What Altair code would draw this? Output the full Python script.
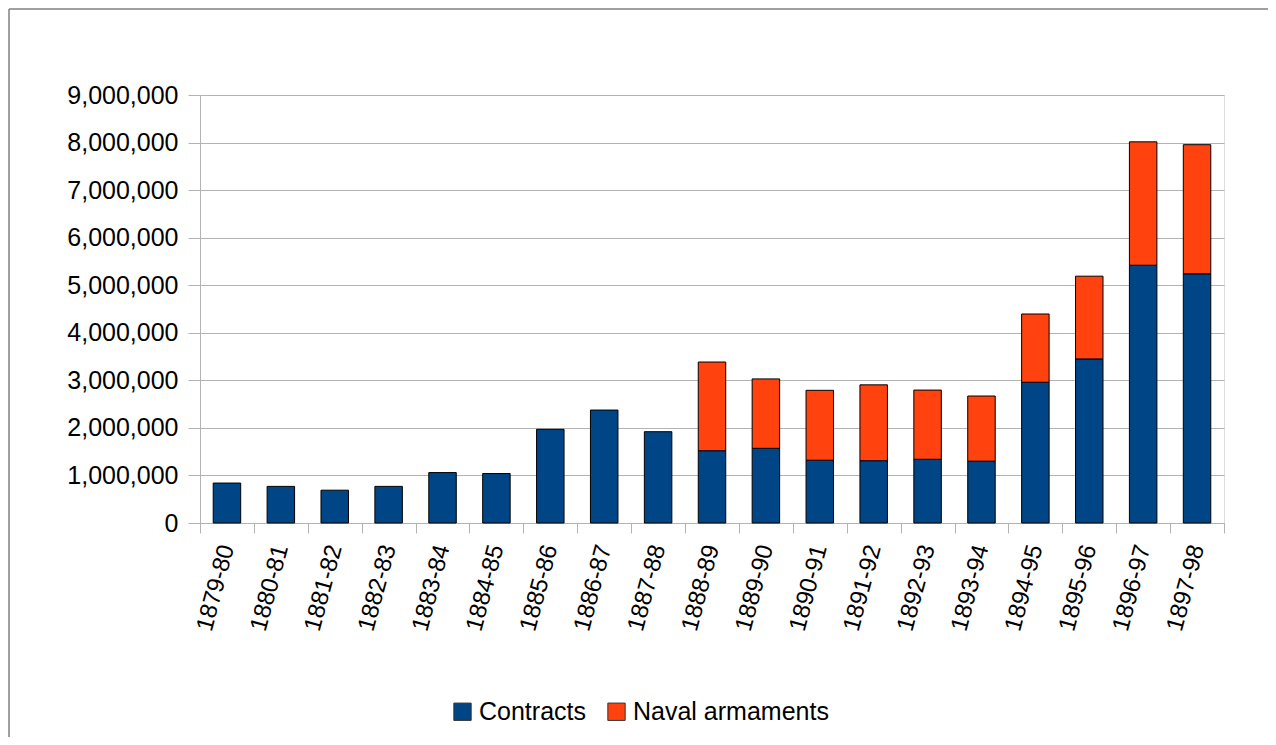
import altair as alt
import pandas as pd

years = ["1879-80", "1880-81", "1881-82", "1882-83", "1883-84", "1884-85",
         "1885-86", "1886-87", "1887-88", "1888-89", "1889-90", "1890-91",
         "1891-92", "1892-93", "1893-94", "1894-95", "1895-96", "1896-97",
         "1897-98"]
contracts = [840000, 770000, 690000, 770000, 1060000, 1040000, 1970000,
             2375000, 1920000, 1520000, 1570000, 1320000, 1310000, 1340000,
             1300000, 2960000, 3450000, 5420000, 5240000]
naval = [None, None, None, None, None, None, None, None, None,
         1865000, 1460000, 1470000, 1595000, 1455000, 1370000, 1435000,
         1740000, 2595000, 2715000]
series = ["Contracts", "Naval armaments"]
y_ticks = [0, 1000000, 2000000, 3000000, 4000000, 5000000, 6000000,
           7000000, 8000000, 9000000]

rows = []
for y, c, n in zip(years, contracts, naval):
    rows.append({"year": y, "series": series[0], "value": c, "ord": 0})
    if n is not None:
        rows.append({"year": y, "series": series[1], "value": n, "ord": 1})
df = pd.DataFrame(rows)

FONT = "Liberation Sans"
GRAY = "#b3b3b3"

bars = alt.Chart(df).mark_bar(
    stroke="#000000", strokeWidth=1, width=alt.RelativeBandSize(0.51)
).encode(
    x=alt.X("year:N", sort=years, title=None,
            scale=alt.Scale(paddingInner=0, paddingOuter=0),
            axis=alt.Axis(labelAngle=-75, labelAlign="right", labelBaseline="middle",
                          labelFontSize=24, labelFont=FONT, labelColor="#000000",
                          labelPadding=12, tickBand="extent", tickSize=10,
                          tickColor=GRAY, domainColor=GRAY, grid=False)),
    y=alt.Y("value:Q", stack="zero", title=None,
            scale=alt.Scale(domain=[0, 9000000], nice=False),
            axis=alt.Axis(values=y_ticks, format=",d", labelFontSize=25,
                          labelFont=FONT, labelColor="#000000", labelPadding=10,
                          tickSize=12, tickColor=GRAY, domainColor=GRAY,
                          grid=True, gridColor=GRAY, gridWidth=1)),
    color=alt.Color("series:N", sort=series, title=None,
                    scale=alt.Scale(domain=series, range=["#004586", "#ff420e"]),
                    legend=alt.Legend(orient="none", legendX=250, legendY=604,
                                      direction="horizontal", symbolType="square",
                                      symbolSize=300, symbolStrokeColor="#333333",
                                      symbolStrokeWidth=1, labelFontSize=25,
                                      labelFont=FONT, labelColor="#000000",
                                      labelOffset=4, labelLimit=0,
                                      columnPadding=18, padding=0)),
    order=alt.Order("ord:Q"),
)

frame_df = pd.DataFrame({"k": [0]})
left_border = alt.Chart(frame_df).mark_rule(color="#808080", strokeWidth=1.5).encode(
    x=alt.value(-191), y=alt.value(-86), y2=alt.value(650))
top_border = alt.Chart(frame_df).mark_rule(color="#808080", strokeWidth=1.5).encode(
    x=alt.value(-191), x2=alt.value(1080), y=alt.value(-86))

chart = alt.layer(bars, left_border, top_border).properties(
    width=1024, height=428,
    autosize=alt.AutoSizeParams(type="none"),
    padding={"left": 192, "top": 87, "right": 44, "bottom": 214},
).configure_view(stroke=None).configure(background="#ffffff")

chart.save("out.html", embed_options={"renderer": "svg", "actions": False})
